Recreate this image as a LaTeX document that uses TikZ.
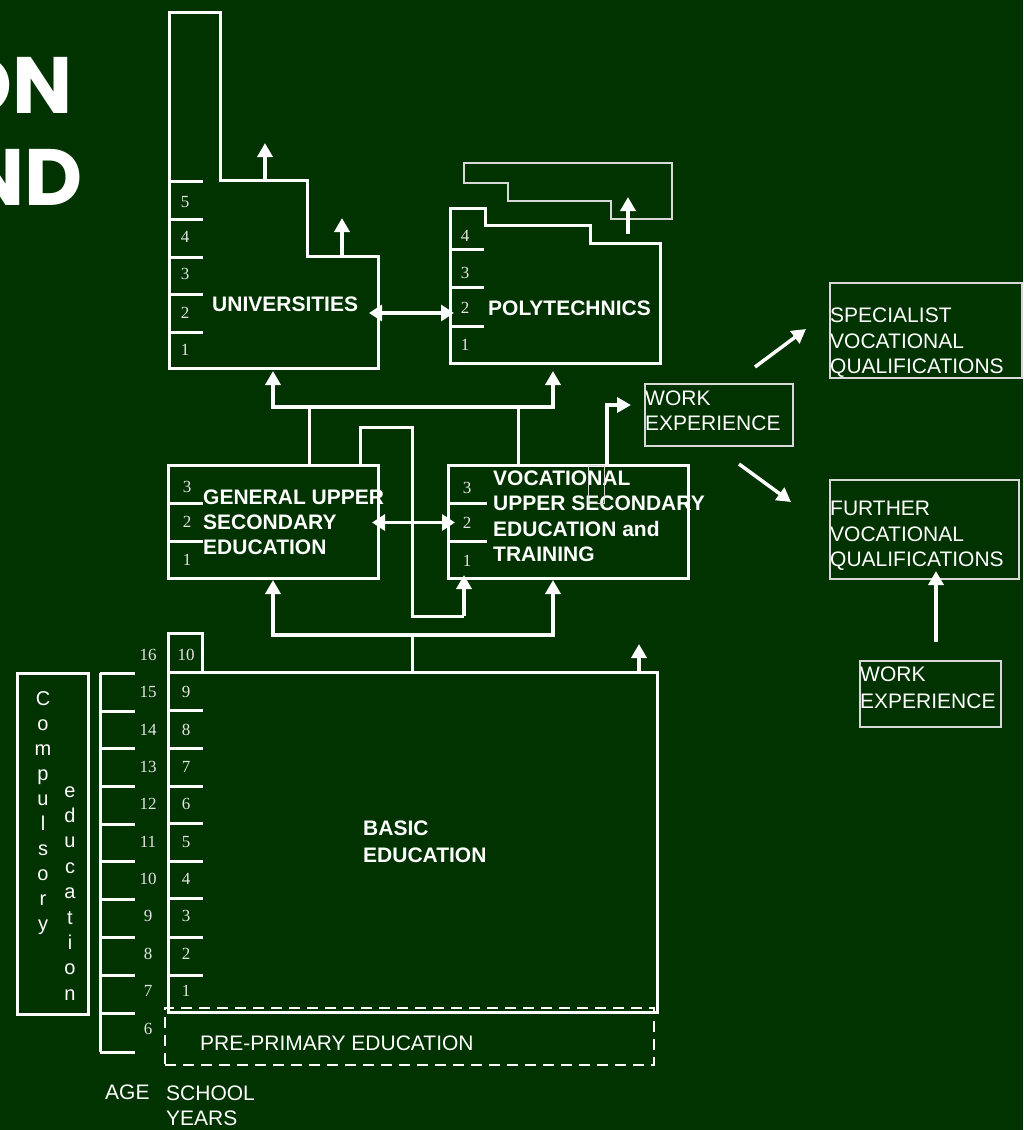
\documentclass[tikz,border=0pt]{standalone}
\usepackage{fontspec}
\setmainfont{Liberation Sans}
\newfontfamily\numfont{Liberation Serif}
\newfontfamily\titlefont{Poppins}
\usepackage{tikz}
\usetikzlibrary{arrows.meta,positioning,calc}
\definecolor{board}{HTML}{003300}
\definecolor{chalk}{HTML}{FFFFFF}
\definecolor{pale}{HTML}{D8D8D8}
\definecolor{numgrey}{HTML}{E4E4E4}
\tikzset{
    every picture/.style={line join=miter},
    wall/.style={draw=chalk,line width=3pt},
    stagebox/.style={draw=chalk,line width=3pt,inner sep=0pt,outer sep=0pt},
    thinbox/.style={draw=pale,line width=1.5pt,inner sep=0pt,outer sep=0pt},
    prebox/.style={draw=chalk,line width=2.5pt,dash pattern=on 11pt off 7pt,
      inner sep=0pt,outer sep=0pt},
    uparrow/.style={draw=chalk,line width=3.5pt,-{Triangle[length=14pt,width=15pt]}},
    twoway/.style={draw=chalk,line width=3.5pt,
      {Triangle[length=13pt,width=16pt]}-{Triangle[length=13pt,width=16pt]}},
    yearnum/.style={font=\numfont\fontsize{17}{17}\selectfont,text=numgrey,inner sep=0pt},
    stagelabel/.style={font=\bfseries\fontsize{21}{25}\selectfont,text=chalk,
      align=left,inner sep=0pt,anchor=base west},
    plainlabel/.style={font=\fontsize{21}{25.5}\selectfont,text=chalk,
      align=left,inner sep=0pt,anchor=base west},
    vletter/.style={font=\fontsize{20}{20}\selectfont,text=chalk,inner sep=0pt,anchor=base},
    titletext/.style={font=\titlefont\bfseries\fontsize{80}{80}\selectfont,text=chalk,
      inner sep=0pt,anchor=base east}
}

\begin{document}
\begin{tikzpicture}[x=1pt,y=-1pt]
  \fill[board] (0,0) rectangle (1023,1130);
  \useasboundingbox (0,0) rectangle (1023,1130);

  % cut-off title
  \node[titletext] (ttlA) at (73,113) {ON};
  \node[titletext] (ttlB) at (83,205) {ND};

  % universities
  \draw[wall] (169,12) -- (220,12) -- (220,180) -- (307,180) -- (307,256)
    -- (378,256) -- (378,368) -- (169,368) -- cycle;
  \foreach \y in {181,219,257,294,332}
    \draw[wall] (169,\y) -- (203,\y);
  \foreach \n/\y in {5/202,4/237,3/274,2/313,1/350}
    \node[yearnum] (uy\n) at (185,\y) {\n};
  \node[stagelabel] (uni) at (212,311) {UNIVERSITIES};
  \coordinate (uniA) at (265,180); \coordinate (uniAout) at (265,143);
  \coordinate (uniB) at (342,256); \coordinate (uniBout) at (342,218);
  \coordinate (uniRim) at (369,313); \coordinate (uniFoot) at (273,371);
  \draw[uparrow] (uniA) -- (uniAout);
  \draw[uparrow] (uniB) -- (uniBout);

  % polytechnics
  \draw[wall] (450,208) -- (485,208) -- (485,225) -- (590,225) -- (590,243)
    -- (660,243) -- (660,363) -- (450,363) -- cycle;
  \foreach \y in {249,287,326}
    \draw[wall] (450,\y) -- (484,\y);
  \foreach \n/\y in {4/236,3/273,2/308,1/345}
    \node[yearnum] (py\n) at (465,\y) {\n};
  \node[stagelabel] (poly) at (488,315) {POLYTECHNICS};
  \draw[pale,line width=1.2pt] (464,163) -- (672,163) -- (672,219) -- (611,219)
    -- (611,201) -- (508,201) -- (508,183) -- (464,183) -- cycle;
  \coordinate (polyA) at (628,234); \coordinate (polyAout) at (628,197);
  \coordinate (polyRim) at (454,313); \coordinate (polyFoot) at (553,371);
  \draw[uparrow] (polyA) -- (polyAout);
  \draw[twoway] (uniRim) -- (polyRim);

  % upper secondary
  \node[stagebox,minimum width=210pt,minimum height=113pt] (gen) at (273,521.5) {};
  \node[stagebox,minimum width=240pt,minimum height=113pt] (voc) at (568,521.5) {};
  \foreach \y in {503,541} {
    \draw[wall] (168,\y) -- (203,\y);
    \draw[wall] (448,\y) -- (487,\y);
  }
  \foreach \n/\y in {3/487,2/522,1/560} {
    \node[yearnum] (gy\n) at (187,\y) {\n};
    \node[yearnum] (vy\n) at (467,\y+0.5) {\n};
  }
  \node[stagelabel] (genlbl) at (203,554) {GENERAL UPPER\\SECONDARY\\EDUCATION};
  \node[stagelabel,font=\bfseries\fontsize{21}{25.5}\selectfont] (voclbl) at (493,561.5)
    {VOCATIONAL\\UPPER SECONDARY\\EDUCATION and\\TRAINING};
  \draw[pale,line width=1pt] (588,465) rectangle (604,503);
  \draw[twoway] ($(gen.east)+(-6,1)$) -- ($(voc.west)+(7,1)$);

  % links up to higher education
  \coordinate (forkL) at (273,407); \coordinate (forkR) at (553,407);
  \draw[wall] ($(gen.north west)+(141,0)$) |- (forkL);
  \draw[wall] ($(voc.north west)+(70,0)$) |- (forkR);
  \draw[uparrow] (forkR) -- (forkL) -- (uniFoot);
  \draw[uparrow] (forkL) -- (forkR) -- (polyFoot);

  % general to vocational loop
  \coordinate (loopA) at (360,427); \coordinate (loopB) at (412,427);
  \coordinate (loopC) at (412,616); \coordinate (loopD) at (464,616);
  \draw[wall] ($(gen.north west)+(192,0)$) -- (loopA) -- (loopB) -- (loopC) -- (loopD);
  \draw[uparrow] (loopD) -- ($(voc.south west)+(16,-3)$);

  % work experience branch
  \node[thinbox,minimum width=148pt,minimum height=62pt] (work) at (719,415) {};
  \node[plainlabel] (worklbl) at (645,430.5) {WORK\\EXPERIENCE};
  \coordinate (workBend) at (607,405);
  \draw[uparrow] ($(voc.north west)+(159,0)$) -- (workBend) -- ($(work.west)+(-14,-10)$);
  \node[thinbox,minimum width=192pt,minimum height=95pt] (spec) at (926,330.5) {};
  \node[plainlabel] (speclbl) at (830,373.5) {SPECIALIST\\VOCATIONAL\\QUALIFICATIONS};
  \node[thinbox,minimum width=189pt,minimum height=99pt] (furth) at (924.5,529.5) {};
  \node[plainlabel] (furthlbl) at (830,566.5) {FURTHER\\VOCATIONAL\\QUALIFICATIONS};
  \node[thinbox,minimum width=141pt,minimum height=66pt] (work2) at (930.5,694) {};
  \node[plainlabel,font=\fontsize{21}{27}\selectfont] (work2lbl) at (860,708.5) {WORK\\EXPERIENCE};
  \coordinate (specIn) at (806,329); \coordinate (specOut) at (755,367);
  \coordinate (furthIn) at (791,502); \coordinate (furthOut) at (739,464);
  \draw[uparrow] (specOut) -- (specIn);
  \draw[uparrow] (furthOut) -- (furthIn);
  \draw[uparrow] ($(work2.north)+(5.5,-19)$) -- ($(furth.south)+(11.5,-8)$);

  % basic education
  \node[prebox,minimum width=489pt,minimum height=57pt] (pre) at (409.5,1036.5) {};
  \node[plainlabel] (prelbl) at (200,1050.5) {PRE-PRIMARY EDUCATION};
  \node[stagebox,minimum width=489pt,minimum height=340pt] (basic) at (412.5,842) {};
  \draw[wall] (basic.north west) -- (168,633) -- (202,633) -- (202,672);
  \foreach \y in {710,748,786,823,861,898,937,975}
    \draw[wall] (168,\y) -- (203,\y);
  \foreach \n in {1,...,10} {
    \node[yearnum] (by\n) at (186,{991-37.33*(\n-1)}) {\n};
    \pgfmathtruncatemacro\age{\n+6}
    \node[yearnum] (ag\n) at (148,{991-37.33*(\n-1)}) {\age};
  }
  \node[yearnum] (ag0) at (148,1029) {6};
  \node[stagelabel,font=\bfseries\fontsize{21}{27}\selectfont] (basiclbl) at (363,862) {BASIC\\EDUCATION};
  \coordinate (basicFork) at (412,635);
  \coordinate (genIn) at (273,580); \coordinate (vocIn) at (553,580);
  \coordinate (stubL) at (273,635); \coordinate (stubR) at (553,635);
  \draw[wall] ($(basic.north west)+(244,0)$) -- (basicFork);
  \draw[uparrow] (basicFork) -- (stubL) -- (genIn);
  \draw[uparrow] (basicFork) -- (stubR) -- (vocIn);
  \draw[uparrow] ($(basic.north west)+(471,0)$) -- ++(0,-28);

  % age ladder and compulsory education
  \draw[wall] (100,673) -- (100,1052);
  \foreach \y in {673,711,748,786,824,861,899,937,975,1013,1052}
    \draw[wall] (100,\y) -- (135,\y);
  \node[stagebox,minimum width=71pt,minimum height=341pt] (comp) at (52.5,843.5) {};
  \foreach \c [count=\i] in {C,o,m,p,u,l,s,o,r,y}
    \node[vletter] (cl\i) at (43,{705+25*(\i-1)}) {\c};
  \foreach \c [count=\i] in {e,d,u,c,a,t,i,o,n}
    \node[vletter] (el\i) at (70,{797+25.4*(\i-1)}) {\c};
  \node[plainlabel] (agelbl) at (105,1099.5) {AGE};
  \node[plainlabel] (yearlbl) at (166,1125.5) {SCHOOL\\YEARS};
\end{tikzpicture}
\end{document}
